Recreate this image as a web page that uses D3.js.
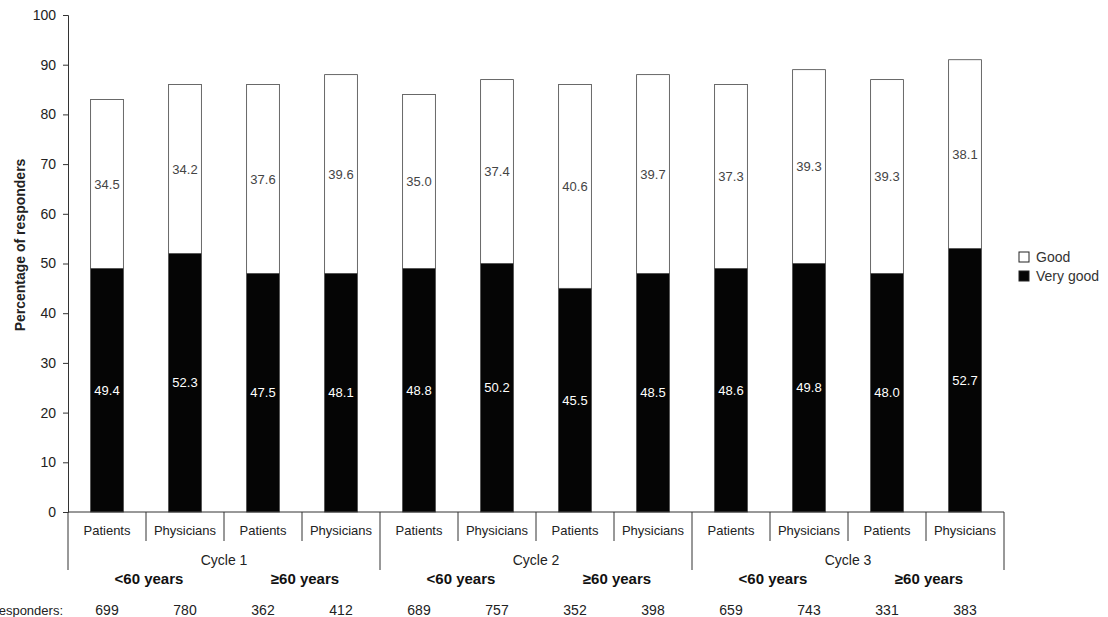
<!DOCTYPE html>
<html lang="en">
<head>
<meta charset="utf-8">
<title>Responders by cycle</title>
<script src="https://d3js.org/d3.v7.min.js"></script>
<style>
    body { margin: 0; background: #fff; }
    svg { font-family: Arial, "Liberation Sans", sans-serif; }
</style>
</head>
<body>
<div id="chart"></div>
<script>
    // categories: each bar is a rater (patients / physicians) inside an age group and cycle
    const raters = ["Patients", "Physicians", "Patients", "Physicians",
                    "Patients", "Physicians", "Patients", "Physicians",
                    "Patients", "Physicians", "Patients", "Physicians"];
    const cycles = ["Cycle 1", "Cycle 2", "Cycle 3"];
    const ageGroups = ["<60 years", "\u226560 years"];
    const responders = [699, 780, 362, 412, 689, 757, 352, 398, 659, 743, 331, 383];

    // printed labels
    const veryGoodLabels = ["49.4", "52.3", "47.5", "48.1", "48.8", "50.2", "45.5", "48.5", "48.6", "49.8", "48.0", "52.7"];
    const goodLabels = ["34.5", "34.2", "37.6", "39.6", "35.0", "37.4", "40.6", "39.7", "37.3", "39.3", "39.3", "38.1"];

    // heights as drawn in the figure (rounded)
    const veryGood = [49, 52, 48, 48, 49, 50, 45, 48, 49, 50, 48, 53];
    const good = [34, 34, 38, 40, 35, 37, 41, 40, 37, 39, 39, 38];

    const yTicks = [0, 10, 20, 30, 40, 50, 60, 70, 80, 90, 100];

    const width = 1108, height = 617;
    const margin = { left: 68, right: 104, top: 15, bottom: 105 };

    const svg = d3.select("#chart").append("svg")
        .attr("width", width)
        .attr("height", height);

    const idx = d3.range(raters.length);
    const x = d3.scaleBand()
        .domain(idx)
        .range([margin.left, width - margin.right])
        .paddingInner(0.58)
        .paddingOuter(0.29);
    const step = x.step();
    const x0 = margin.left; // left edge of first band
    const bandLeft = i => x0 + i * step;
    const bandMid = i => x0 + (i + 0.5) * step;

    const y = d3.scaleLinear()
        .domain([0, 100])
        .range([height - margin.bottom, margin.top]);

    // y axis
    const yAxis = svg.append("g")
        .attr("transform", `translate(${margin.left},0)`)
        .call(d3.axisLeft(y).tickValues(yTicks).tickSize(5).tickPadding(7));
    yAxis.selectAll("text").attr("font-size", 14).attr("fill", "#222").style("font-family", "Arial, 'Liberation Sans', sans-serif");
    yAxis.selectAll("line").attr("stroke", "#333");
    yAxis.select(".domain").attr("stroke", "#333");

    svg.append("text")
        .attr("transform", `translate(25,245) rotate(-90)`)
        .attr("text-anchor", "middle")
        .attr("font-size", 14)
        .attr("font-weight", "bold")
        .attr("fill", "#222")
        .text("Percentage of responders");

    // stacked bars
    const bars = svg.append("g");
    bars.selectAll("rect.vg")
        .data(idx)
        .join("rect")
        .attr("class", "vg")
        .attr("x", i => x(i))
        .attr("width", x.bandwidth())
        .attr("y", i => y(veryGood[i]))
        .attr("height", i => y(0) - y(veryGood[i]))
        .attr("fill", "#050505")
        .attr("stroke", "#444")
        .attr("stroke-width", 0.8);
    bars.selectAll("rect.g")
        .data(idx)
        .join("rect")
        .attr("class", "g")
        .attr("x", i => x(i))
        .attr("width", x.bandwidth())
        .attr("y", i => y(veryGood[i] + good[i]))
        .attr("height", i => y(veryGood[i]) - y(veryGood[i] + good[i]))
        .attr("fill", "#fff")
        .attr("stroke", "#444")
        .attr("stroke-width", 0.8);

    bars.selectAll("text.vgl")
        .data(idx)
        .join("text")
        .attr("class", "vgl")
        .attr("x", i => x(i) + x.bandwidth() / 2)
        .attr("y", i => y(veryGood[i] / 2))
        .attr("dy", "0.35em")
        .attr("text-anchor", "middle")
        .attr("font-size", 13)
        .attr("fill", "#fff")
        .text(i => veryGoodLabels[i]);
    bars.selectAll("text.gl")
        .data(idx)
        .join("text")
        .attr("class", "gl")
        .attr("x", i => x(i) + x.bandwidth() / 2)
        .attr("y", i => y(veryGood[i] + good[i] / 2))
        .attr("dy", "0.35em")
        .attr("text-anchor", "middle")
        .attr("font-size", 13)
        .attr("fill", "#444")
        .text(i => goodLabels[i]);

    // category table under the bars
    const base = y(0);
    const tbl = svg.append("g").attr("stroke", "#333").attr("stroke-width", 1);
    tbl.append("line")
        .attr("x1", margin.left).attr("x2", width - margin.right)
        .attr("y1", base).attr("y2", base);
    d3.range(raters.length + 1).forEach(i => {
        const long = i % 4 === 0;
        tbl.append("line")
            .attr("x1", bandLeft(i)).attr("x2", bandLeft(i))
            .attr("y1", base).attr("y2", base + (long ? 58 : 29));
    });

    svg.selectAll("text.rater")
        .data(idx)
        .join("text")
        .attr("class", "rater")
        .attr("x", i => bandMid(i))
        .attr("y", base + 23)
        .attr("text-anchor", "middle")
        .attr("font-size", 13)
        .attr("fill", "#222")
        .text(i => raters[i]);

    svg.selectAll("text.cycle")
        .data(cycles)
        .join("text")
        .attr("class", "cycle")
        .attr("x", (d, c) => bandLeft(c * 4 + 2))
        .attr("y", base + 53)
        .attr("text-anchor", "middle")
        .attr("font-size", 14)
        .attr("fill", "#222")
        .text(d => d);

    const ageCells = d3.range(cycles.length * ageGroups.length);
    svg.selectAll("text.age")
        .data(ageCells)
        .join("text")
        .attr("class", "age")
        .attr("x", k => bandLeft(k * 2 + 1) + 3)
        .attr("y", base + 72)
        .attr("text-anchor", "middle")
        .attr("font-size", 15)
        .attr("font-weight", "bold")
        .attr("fill", "#111")
        .text(k => ageGroups[k % 2]);

    svg.append("text")
        .attr("x", 63)
        .attr("y", base + 103)
        .attr("text-anchor", "end")
        .attr("font-size", 13)
        .attr("fill", "#222")
        .text("Responders:");
    svg.selectAll("text.resp")
        .data(idx)
        .join("text")
        .attr("class", "resp")
        .attr("x", i => bandMid(i))
        .attr("y", base + 103)
        .attr("text-anchor", "middle")
        .attr("font-size", 14)
        .attr("fill", "#222")
        .text(i => responders[i]);

    // legend
    const legend = svg.append("g").attr("transform", "translate(1019,252)");
    const legendItems = [{ name: "Good", fill: "#fff" }, { name: "Very good", fill: "#050505" }];
    legendItems.forEach((d, k) => {
        legend.append("rect")
            .attr("x", 0).attr("y", k * 19)
            .attr("width", 10).attr("height", 10)
            .attr("fill", d.fill)
            .attr("stroke", "#222");
        legend.append("text")
            .attr("x", 17).attr("y", k * 19 + 5)
            .attr("dy", "0.35em")
            .attr("font-size", 14)
            .attr("fill", "#333")
            .text(d.name);
    });
</script>
</body>
</html>
